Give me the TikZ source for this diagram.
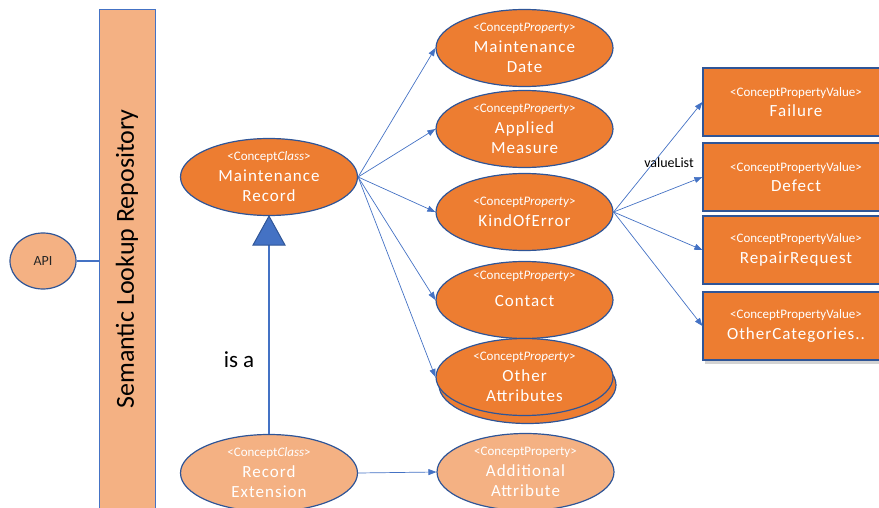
\documentclass[tikz,border=0pt]{standalone}
\usepackage{fontspec}
\setmainfont{Carlito}
\newfontfamily\wideface{Carlito}[LetterSpace=6]
\usetikzlibrary{shapes.geometric,arrows.meta,shadows,calc}

\definecolor{deeporange}{HTML}{ED7D31}
\definecolor{softorange}{HTML}{F4B183}
\definecolor{rimblue}{HTML}{2F5597}
\definecolor{linkblue}{HTML}{4472C4}

% stereotype line on top of each concept
\newcommand{\stereo}[1]{{\normalfont\fontsize{13}{15}\selectfont<#1>}}

\begin{document}
\begin{tikzpicture}[x=1pt,y=-1pt,
  labeltext/.style={text=white, align=center, inner sep=0pt,
    font=\wideface\fontsize{17}{20.5}\selectfont},
  concept/.style={ellipse, draw=rimblue, line width=1.2pt, fill=deeporange,
    minimum width=177pt, minimum height=77pt, labeltext},
  lightconcept/.style={concept, fill=softorange},
  valuebox/.style={rectangle, draw=rimblue, line width=1.2pt, fill=deeporange,
    minimum width=186pt, minimum height=68pt, labeltext},
  link/.style={draw=linkblue, line width=0.7pt,
    -{Triangle[length=8pt,width=6pt]}},
  plainlink/.style={draw=linkblue, line width=1.2pt}]

\path[use as bounding box] (0,0) rectangle (879,508);
\clip (0,0) rectangle (879,508);

% repository bar and API
\node[rectangle, draw=linkblue, line width=1pt, fill=softorange,
  minimum width=56pt, minimum height=520pt, inner sep=0pt, anchor=north]
  (repo) at (127,9) {};
\node[rotate=90, font=\fontsize{26}{30}\selectfont] (repolabel) at (127,259)
  {Semantic Lookup Repository};
\node[ellipse, draw=rimblue, line width=1.2pt, fill=softorange,
  minimum width=66pt, minimum height=56pt, inner sep=0pt,
  text=black!85, font=\fontsize{14}{16}\selectfont] (api) at (43,261) {API};
\draw[plainlink] (api.east) -- (api.east -| repo.west);

% classes
\node[concept] (mr) at (269,177)
  {\stereo{Concept\textit{Class}}\\Maintenance\\Record};
\node[lightconcept] (re) at (269,473)
  {\stereo{Concept\textit{Class}}\\Record\\Extension};

% inheritance
\coordinate (tipL) at ($(mr.south)+(-16,29)$);
\coordinate (tipR) at ($(mr.south)+(16,29)$);
\coordinate (tribase) at ($(mr.south)+(0,29)$);
\draw[plainlink] (re.north) -- (tribase);
\draw[draw=rimblue, line width=1pt, fill=linkblue]
  (mr.south) -- (tipL) -- (tipR) -- cycle;
\node[font=\fontsize{23}{26}\selectfont] (isa) at (239,360) {is a};

% properties
\node[concept] (md) at (524.5,48)
  {\stereo{Concept\textit{Property}}\\Maintenance\\Date};
\node[concept] (am) at (524.5,129)
  {\stereo{Concept\textit{Property}}\\Applied\\Measure};
\node[concept] (ke) at (524.5,212)
  {\stereo{Concept\textit{Property}}\\KindOfError};
\node[concept] (ct) at (524.5,300) {};
\node[labeltext] (cttext) at (524.5,289)
  {\stereo{Concept\textit{Property}}\\[6pt]Contact};
\node[concept] (oaback) at (527.5,385) {};
\node[concept] (oa) at (524.5,377)
  {\stereo{Concept\textit{Property}}\\Other\\Attributes};
\node[lightconcept] (aa) at (525.5,472)
  {\stereo{ConceptProperty}\\Additional\\Attribute};

\foreach \p in {md,am,ke,ct,oa}
  \draw[link] (mr.east) -- (\p.west);
\draw[link] (re.east) -- (aa.west);

% value list
\node[valuebox] (vf) at (796,102)
  {\stereo{ConceptPropertyValue}\\Failure};
\node[valuebox] (vd) at (796,177)
  {\stereo{ConceptPropertyValue}\\Defect};
\node[valuebox] (vr) at (796,250)
  {\stereo{ConceptPropertyValue}\\RepairRequest};
\node[valuebox, drop shadow={shadow xshift=2pt, shadow yshift=-4pt,
  opacity=0.35}] (vo) at (796,326)
  {\stereo{ConceptPropertyValue}\\OtherCategories..};

\foreach \v in {vf,vd,vr,vo}
  \draw[link] (ke.east) -- (\v.west);
\node[font=\fontsize{14}{16}\selectfont] (vlist) at (669,163) {valueList};

\end{tikzpicture}
\end{document}
